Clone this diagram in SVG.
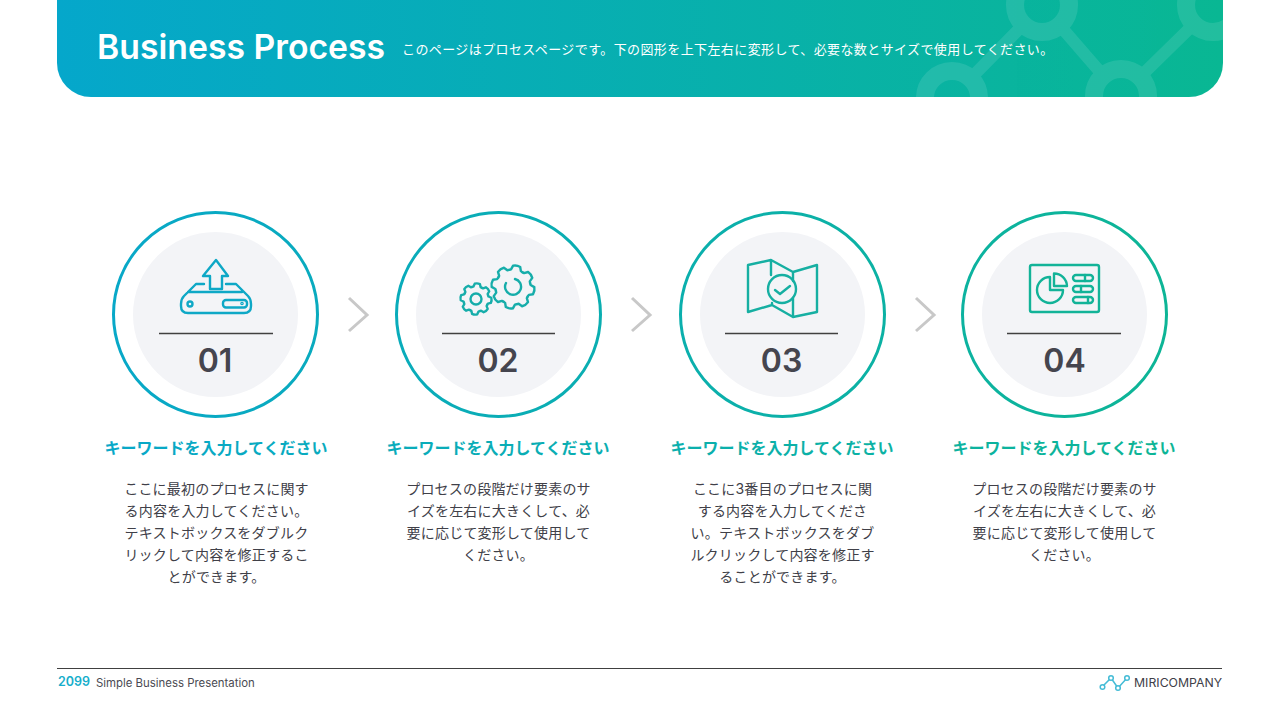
<svg xmlns="http://www.w3.org/2000/svg" width="1280" height="720" viewBox="0 0 1280 720">
<defs>
<linearGradient id="hdr" gradientUnits="userSpaceOnUse" x1="57" y1="60" x2="1223" y2="40"><stop offset="0" stop-color="#05a7cb"/><stop offset="1" stop-color="#0ab794"/></linearGradient>
<linearGradient id="pg" gradientUnits="userSpaceOnUse" x1="110" y1="0" x2="1170" y2="0"><stop offset="0" stop-color="#08a8c8"/><stop offset="1" stop-color="#0db596"/></linearGradient>
<clipPath id="hc"><path d="M57 0H1223V63A34 34 0 0 1 1189 97H91A34 34 0 0 1 57 63Z"/></clipPath>
<g id="tooth"><path d="M-6.7-16.2L-5-17L-3.6-21Q0-22.4 3.6-21L5-17L6.700-16.200"/></g>
<g id="gear"><use href="#tooth"/><use href="#tooth" transform="rotate(45)"/><use href="#tooth" transform="rotate(90)"/><use href="#tooth" transform="rotate(135)"/><use href="#tooth" transform="rotate(180)"/><use href="#tooth" transform="rotate(225)"/><use href="#tooth" transform="rotate(270)"/><use href="#tooth" transform="rotate(315)"/></g>
</defs>
<style>
text{font-family:"Inter","Noto Sans CJK JP",sans-serif}
.ring{fill:#fff;stroke:url(#pg);stroke-width:3}
.disc{fill:#f3f4f7}
.rule{stroke:#404040;stroke-width:1.5}
.num{font-size:32px;font-weight:600;fill:#45454e;text-anchor:middle}
.kw{font-size:16px;font-weight:700;text-anchor:middle;fill:url(#pg)}
.body{font-size:14px;fill:#404048;text-anchor:middle;letter-spacing:.2px}
.ic{fill:none;stroke-width:2.400;stroke-linecap:round;stroke-linejoin:round}
.net{fill:none;stroke:#fff;stroke-width:18}
.lnk{stroke:#fff;stroke-width:12}
.chev{fill:none;stroke:#c8c8c8;stroke-width:3}
</style>
<rect width="1280" height="720" fill="#fff"/>
<g id="header">
<path d="M57 0H1223V63A34 34 0 0 1 1189 97H91A34 34 0 0 1 57 63Z" fill="url(#hdr)"/>
<g clip-path="url(#hc)" opacity=".1">
<path class="lnk" d="M1021 27L973 76M1062 28L1101 73M1142 75L1192 26"/>
<circle class="net" cx="1042" cy="5" r="27"/><circle class="net" cx="952" cy="98" r="27"/><circle class="net" cx="1121" cy="96" r="27"/><circle class="net" cx="1213" cy="5" r="27"/>
</g>
<text x="97" y="59" font-size="33.750" font-weight="600" fill="#fff">Business Process</text>
<text x="402" y="54" font-size="13" fill="#fff" letter-spacing=".4">このページはプロセスページです。下の図形を上下左右に変形して、必要な数とサイズで使用してください。</text>
</g>
<g id="connectors">
<path class="chev" d="M349 298L367 315L349 331"/>
<path class="chev" d="M632 298L650 315L632 331"/>
<path class="chev" d="M916 298L934 315L916 331"/>
</g>
<g id="node-01">
<circle class="ring" cx="215.500" cy="314.500" r="102"/><circle class="disc" cx="215.500" cy="314.500" r="82.500"/>
<g class="ic" stroke="#0ea8c6">
<path d="M216 260L203 276H210V289H222V276H228Z"/>
<path d="M204 284H196L184 296Q181 299 181 304V306Q181 313 188 313H244Q251 313 251 306V304Q251 299 248 296L236 284H226M188 292H242"/>
<circle cx="190" cy="304" r="2.500"/><rect x="223" y="300" width="24" height="7.500" rx="3"/><circle cx="242" cy="303.500" r=".6"/>
</g>
<line class="rule" x1="159" y1="333.500" x2="273" y2="333.500"/>
<text class="num" x="215" y="372">01</text>
<text class="kw" x="216" y="453.500">キーワードを入力してください</text>
<text class="body" x="216.500" y="494">ここに最初のプロセスに関す</text>
<text class="body" x="216.500" y="516">る内容を入力してください。</text>
<text class="body" x="216.500" y="538">テキストボックスをダブルク</text>
<text class="body" x="216.500" y="560">リックして内容を修正するこ</text>
<text class="body" x="216.500" y="582">とができます。</text>
</g>
<g id="node-02">
<circle class="ring" cx="498.500" cy="314.500" r="102"/><circle class="disc" cx="498.500" cy="314.500" r="82.500"/>
<g class="ic" style="stroke:#16adaa">
<g transform="translate(513 287) rotate(10)"><use href="#gear"/></g>
<g transform="translate(476 299) rotate(5) scale(.72)" stroke-width="3.300"><use href="#gear"/></g>
<circle cx="476" cy="299" r="5.500"/>
<path d="M515 279A8 8 0 1 1 506 283"/>
</g>
<line class="rule" x1="442" y1="333.500" x2="555" y2="333.500"/>
<text class="num" x="498" y="372">02</text>
<text class="kw" x="498" y="453.500">キーワードを入力してください</text>
<text class="body" x="498.500" y="494">プロセスの段階だけ要素のサ</text>
<text class="body" x="498.500" y="516">イズを左右に大きくして、必</text>
<text class="body" x="498.500" y="538">要に応じて変形して使用して</text>
<text class="body" x="498.500" y="560">ください。</text>
</g>
<g id="node-03">
<circle class="ring" cx="782.500" cy="314.500" r="102"/><circle class="disc" cx="782.500" cy="314.500" r="82.500"/>
<g class="ic" style="stroke:#16afa2">
<path d="M748 265L771 260L793 272L817 265V312L793 317L772 305L748 312ZM771 260V275M772 303V305M793 272V281M793 298V317"/>
<circle cx="782" cy="289" r="14"/><path d="M775 290L780 294L790 286"/>
</g>
<line class="rule" x1="725" y1="333.500" x2="838" y2="333.500"/>
<text class="num" x="781.500" y="372">03</text>
<text class="kw" x="782" y="453.500">キーワードを入力してください</text>
<text class="body" x="782.500" y="494">ここに3番目のプロセスに関</text>
<text class="body" x="782.500" y="516">する内容を入力してくださ</text>
<text class="body" x="782.500" y="538">い。テキストボックスをダブ</text>
<text class="body" x="782.500" y="560">ルクリックして内容を修正す</text>
<text class="body" x="782.500" y="582">ることができます。</text>
</g>
<g id="node-04">
<circle class="ring" cx="1064.500" cy="314.500" r="102"/><circle class="disc" cx="1064.500" cy="314.500" r="82.500"/>
<g class="ic" style="stroke:#12b398">
<rect x="1030" y="265" width="69" height="47" rx="2"/>
<path d="M1050 277A13 13 0 1 0 1063 290H1050Z"/><path d="M1054 273.500A13 13 0 0 1 1067 286H1054Z"/>
<rect x="1073" y="275" width="20" height="6" rx="3"/><rect x="1073" y="286" width="20" height="6" rx="3"/><rect x="1073" y="297" width="20" height="6" rx="3"/>
<path d="M1085 275V281M1081 286V292M1088 297V303"/>
</g>
<line class="rule" x1="1007" y1="333.500" x2="1121" y2="333.500"/>
<text class="num" x="1064.500" y="372">04</text>
<text class="kw" x="1064" y="453.500">キーワードを入力してください</text>
<text class="body" x="1064.500" y="494">プロセスの段階だけ要素のサ</text>
<text class="body" x="1064.500" y="516">イズを左右に大きくして、必</text>
<text class="body" x="1064.500" y="538">要に応じて変形して使用して</text>
<text class="body" x="1064.500" y="560">ください。</text>
</g>
<g id="footer">
<line x1="57" y1="668.500" x2="1222" y2="668.500" stroke="#404040"/>
<text x="58" y="686" font-size="12.500" font-weight="600" fill="#16aecb">2099</text>
<text x="96" y="686.500" font-size="11.400" fill="#4a4a52">Simple Business Presentation</text>
<g fill="none" stroke="#45bcd6" stroke-width="1.500"><path d="M1102 687L1111 678L1118 688L1127 678"/><circle cx="1102.500" cy="687" r="2.300" fill="#fff"/><circle cx="1111" cy="678" r="2.300" fill="#fff"/><circle cx="1118" cy="688" r="2.300" fill="#fff"/><circle cx="1127" cy="678" r="2.300" fill="#fff"/></g>
<text x="1134" y="686.500" font-size="12.300" fill="#404048">MIRICOMPANY</text>
</g>
</svg>
